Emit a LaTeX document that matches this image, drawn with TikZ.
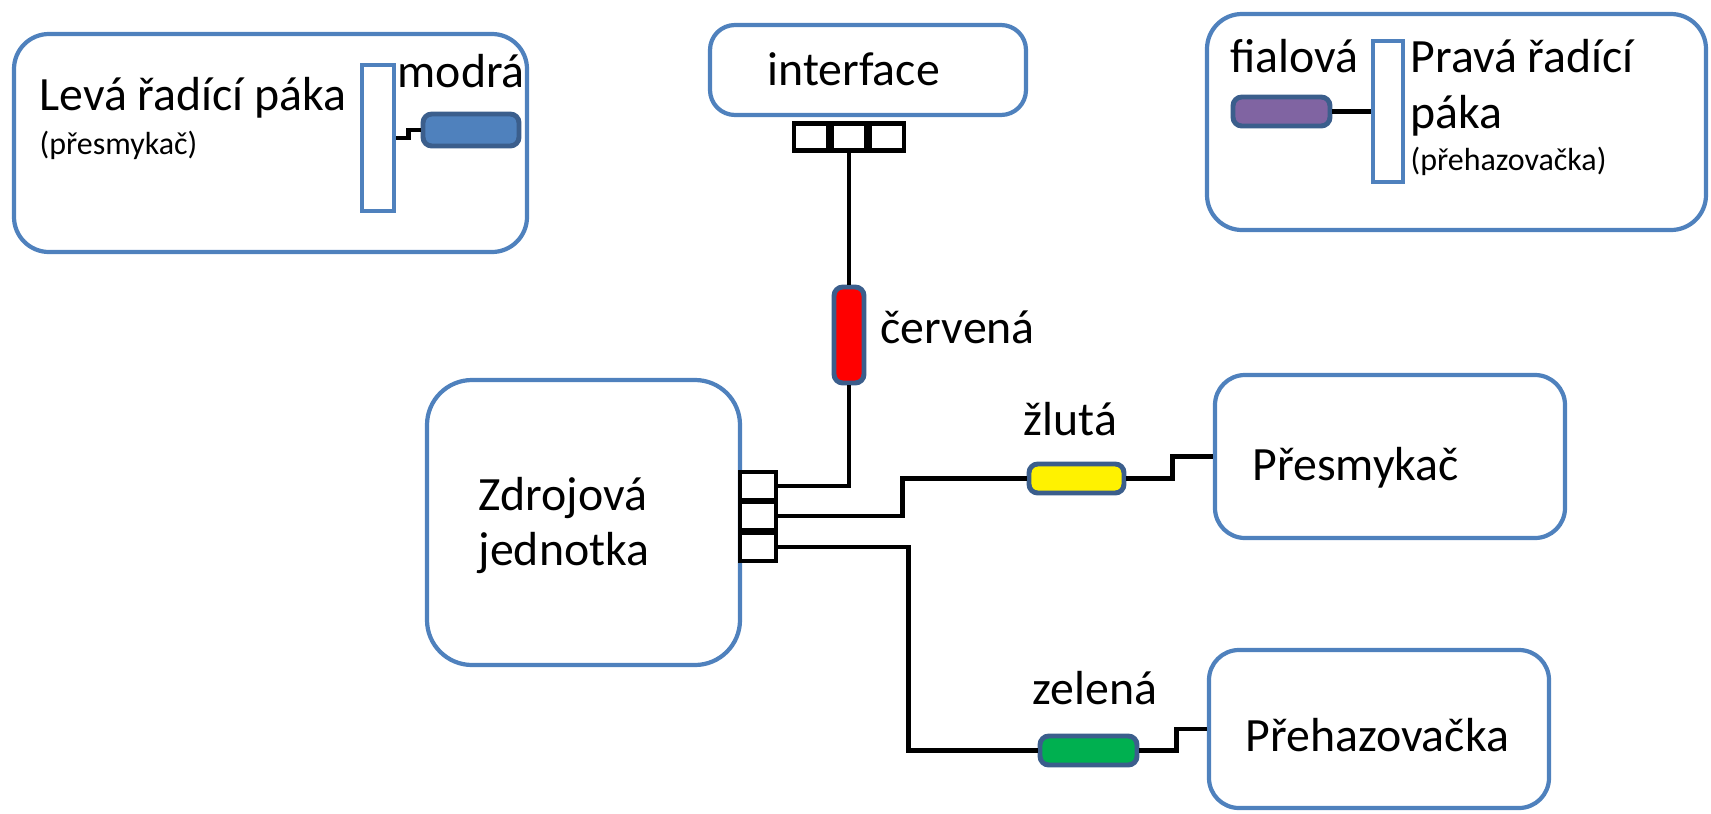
\documentclass[tikz,border=0pt]{standalone}
\usepackage{fontspec}
\setmainfont{Carlito}
\definecolor{boxblue}{HTML}{4F81BD}
\definecolor{cableedge}{HTML}{3B5E8C}
\definecolor{cablepurple}{HTML}{8064A2}
\definecolor{cablegreen}{HTML}{00B050}
\begin{document}
\begin{tikzpicture}[
    unitbox/.style={draw=boxblue, line width=1.2pt, rounded corners=#1, inner sep=0pt},
    unitbox/.default=0.3cm,
    lever/.style={draw=boxblue, line width=1.2pt, fill=white, inner sep=0pt},
    cable/.style={draw=cableedge, line width=1.4pt, rounded corners=2.5pt, fill=#1, inner sep=0pt},
    port/.style={draw, line width=1.4pt, fill=white, inner sep=0pt, minimum width=0.34cm, minimum height=0.27cm},
    wire/.style={line width=1.4pt},
    lbl/.style={anchor=base west, inner sep=0pt, font=\fontsize{13.6}{16}\selectfont},
    smalllbl/.style={anchor=base west, inner sep=0pt, font=\fontsize{9.1}{11}\selectfont}]
    \useasboundingbox (0,0) rectangle (17.11,8.13);

    % Left shifter
    \node[unitbox=0.35cm, minimum width=5.13cm, minimum height=2.18cm] (levyBox) at (2.705,6.70) {};
    \node[lever, minimum width=0.32cm, minimum height=1.46cm] (levyPaka) at (3.78,6.75) {};
    \node[cable=boxblue, minimum width=0.96cm, minimum height=0.32cm] (modra) at (4.71,6.83) {};
    \node[lbl] (levyText) at (0.39,7.03) {Levá řadící páka};
    \node[smalllbl] (levyPozn) at (0.39,6.59) {(přesmykač)};
    \node[lbl] (modraText) at (3.97,7.26) {modrá};
    \draw[wire] (levyPaka.east) -- ++(0.12,0) |- (modra.west);

    % Interface
    \node[unitbox=0.25cm, minimum width=3.16cm, minimum height=0.90cm] (interface) at (8.68,7.43) {};
    \node[lbl] (interfaceText) at (7.67,7.28) {interface};
    \node[port] (ip1) at (8.11,6.76) {};
    \node[port] (ip2) at (8.49,6.76) {};
    \node[port] (ip3) at (8.87,6.76) {};

    % Right shifter
    \node[unitbox=0.35cm, minimum width=4.99cm, minimum height=2.16cm] (pravyBox) at (14.565,6.91) {};
    \node[lever, minimum width=0.30cm, minimum height=1.41cm] (pravyPaka) at (13.88,7.015) {};
    \node[cable=cablepurple, minimum width=0.97cm, minimum height=0.29cm] (fialova) at (12.815,7.015) {};
    \node[lbl] (fialovaText) at (12.30,7.41) {fialová};
    \node[lbl] (pravyText) at (14.10,7.41) {Pravá řadící};
    \node[lbl] (pravyText2) at (14.10,6.85) {páka};
    \node[smalllbl] (pravyPozn) at (14.10,6.43) {(přehazovačka)};
    \draw[wire] (fialova.east) -- (pravyPaka.west);

    % Power unit
    \node[unitbox=0.45cm, minimum width=3.13cm, minimum height=2.85cm] (zdroj) at (5.835,2.905) {};
    \node[lbl] (zdrojText) at (4.78,3.03) {Zdrojová};
    \node[lbl] (zdrojText2) at (4.78,2.48) {jednotka};
    \node[port, minimum width=0.36cm, minimum height=0.28cm] (pp1) at (7.58,3.27) {};
    \node[port, minimum width=0.36cm, minimum height=0.28cm] (pp2) at (7.58,2.97) {};
    \node[port, minimum width=0.36cm, minimum height=0.28cm] (pp3) at (7.58,2.66) {};

    % Front and rear derailleur
    \node[unitbox, minimum width=3.50cm, minimum height=1.63cm] (presmykac) at (13.90,3.565) {};
    \node[lbl] (presmykacText) at (12.52,3.33) {Přesmykač};
    \node[unitbox, minimum width=3.40cm, minimum height=1.58cm] (prehazovacka) at (13.79,0.84) {};
    \node[lbl] (prehazovackaText) at (12.45,0.62) {Přehazovačka};

    % Cables
    \node[cable=red, minimum width=0.30cm, minimum height=0.96cm] (cervena) at (8.49,4.78) {};
    \node[lbl] (cervenaText) at (8.80,4.70) {červená};
    \node[cable=yellow, minimum width=0.95cm, minimum height=0.29cm] (zluta) at (10.765,3.345) {};
    \node[lbl] (zlutaText) at (10.23,3.78) {žlutá};
    \node[cable=cablegreen, minimum width=0.97cm, minimum height=0.29cm] (zelena) at (10.885,0.625) {};
    \node[lbl] (zelenaText) at (10.32,1.09) {zelená};

    % Wiring
    \draw[wire] (ip2.south) -- (cervena.north);
    \draw[wire] (cervena.south) |- (pp1.east);
    \draw[wire] (pp2.east) -- ++(1.24,0) |- (zluta.west);
    \draw[wire] (zluta.east) -- ++(0.46,0) |- (presmykac.west);
    \draw[wire] (pp3.east) -- ++(1.30,0) |- (zelena.west);
    \draw[wire] (zelena.east) -- ++(0.37,0) |- (prehazovacka.west);
\end{tikzpicture}
\end{document}
